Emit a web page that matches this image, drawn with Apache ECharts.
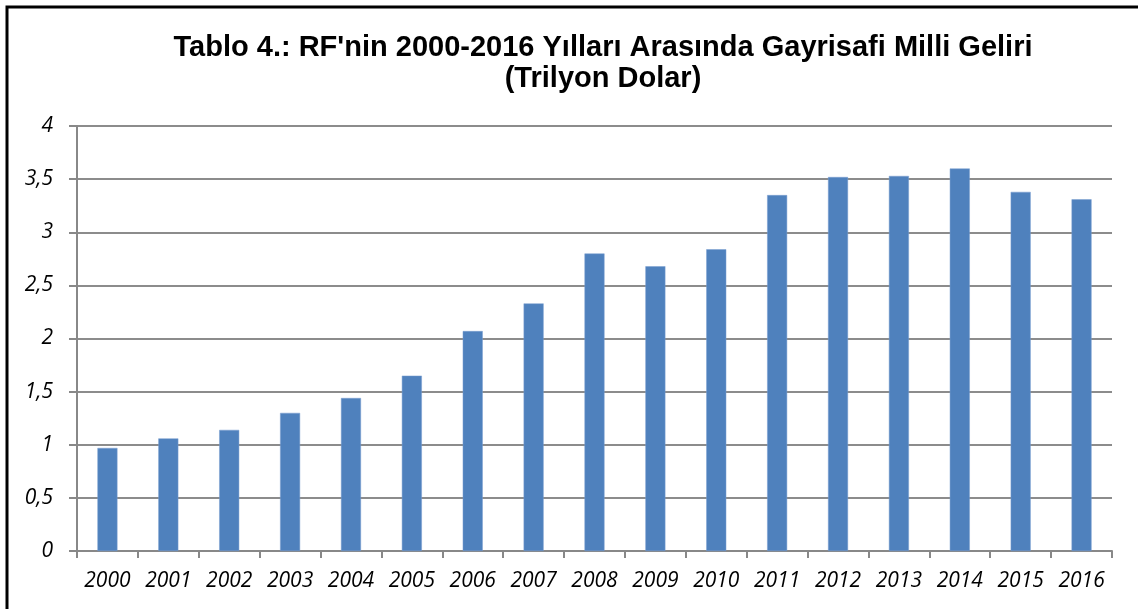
<!DOCTYPE html>
<html><head><meta charset="utf-8">
<script src="https://cdn.jsdelivr.net/npm/echarts@6/dist/echarts.min.js"></script>
<style>html,body{margin:0;padding:0;background:#fff}#c{width:1138px;height:609px}</style>
</head><body><div id="c"></div>
<script>
const years = ['2000','2001','2002','2003','2004','2005','2006','2007','2008','2009','2010','2011','2012','2013','2014','2015','2016'];
const gni = [0.97,1.06,1.14,1.30,1.44,1.65,2.07,2.33,2.80,2.68,2.84,3.35,3.52,3.53,3.60,3.38,3.31];
const yTicks = [0,0.5,1,1.5,2,2.5,3,3.5,4];
const titleText = "Tablo 4.: RF'nin 2000-2016 Yılları Arasında Gayrisafi Milli Geliri\n(Trilyon Dolar)";

const chart = echarts.init(document.getElementById('c'), null, {renderer:'canvas'});
const fmt = v => String(v).replace('.', ',');
chart.setOption({
  animation:false,
  backgroundColor:'#fff',
  graphic:[{type:'rect', shape:{x:7, y:7, width:1300, height:800}, style:{fill:'none', stroke:'#000', lineWidth:3}, z:100}],
  title:{text:titleText, left:598, top:27, textAlign:'center',
    textStyle:{fontFamily:'Liberation Sans', fontWeight:'bold', fontSize:29, lineHeight:31, color:'#000'}},
  grid:{left:77, right:26, top:126, bottom:58},
  xAxis:{type:'category', data:years,
    axisLine:{lineStyle:{color:'#888', width:2}},
    axisTick:{show:true, length:7, lineStyle:{color:'#888', width:2}},
    axisLabel:{fontFamily:'Open Sans', fontStyle:'italic', fontSize:21, color:'#000', margin:20}},
  yAxis:{type:'value', min:0, max:4, interval:0.5,
    axisLine:{show:true, lineStyle:{color:'#888', width:2}},
    axisTick:{show:true, length:8, lineStyle:{color:'#888', width:2}},
    splitLine:{show:true, lineStyle:{color:'#8c8c8c', width:2}},
    axisLabel:{fontFamily:'Open Sans', fontStyle:'italic', fontSize:21, color:'#000', margin:24, formatter:fmt}},
  series:[{type:'bar', data:gni, barWidth:20, itemStyle:{color:'#4F81BD', borderColor:'#7a9fd0', borderWidth:0.5}}]
});
</script></body></html>
